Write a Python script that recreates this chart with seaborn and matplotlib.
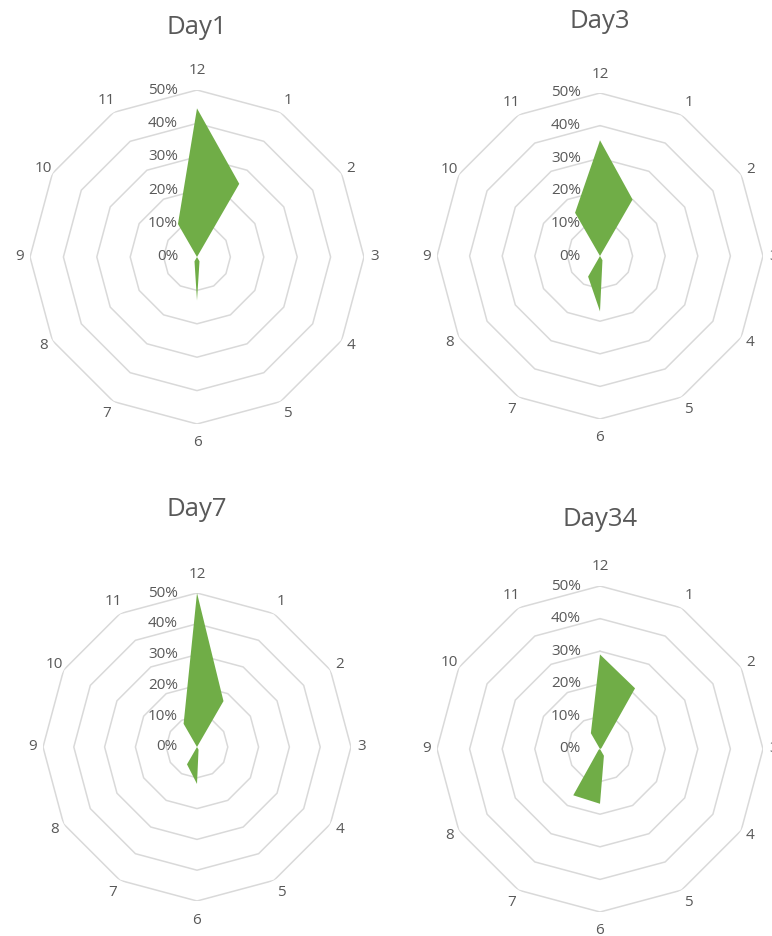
import matplotlib

matplotlib.use("Agg")
import matplotlib.pyplot as plt
import matplotlib.transforms as mtransforms
import numpy as np
import seaborn as sns

# hour-of-day categories, clockwise from the top
categories = ["12", "1", "2", "3", "4", "5", "6", "7", "8", "9", "10", "11"]

# share of events per hour (fractions)
day1 = [0.445, 0.253, 0.0, 0.0, 0.0, 0.015, 0.13, 0.015, 0.0, 0.0, 0.0, 0.114]
day3 = [0.355, 0.20, 0.0, 0.0, 0.0, 0.015, 0.17, 0.073, 0.0, 0.0, 0.0, 0.153]
day7 = [0.50, 0.172, 0.0, 0.0, 0.0, 0.01, 0.12, 0.065, 0.0, 0.0, 0.0, 0.087]
day34 = [0.29, 0.215, 0.005, 0.0, 0.0, 0.024, 0.168, 0.164, 0.005, 0.0, 0.0, 0.056]

titles = ["Day1", "Day3", "Day7", "Day34"]
r_ticks = [0.0, 0.1, 0.2, 0.3, 0.4, 0.5]
r_labels = ["0%", "10%", "20%", "30%", "40%", "50%"]

GREEN = "#70AD47"
GRID = "#D9D9D9"
TEXT = "#595959"

sns.set_theme(style="white")
plt.rcParams["font.family"] = ["Open Sans", "DejaVu Sans"]

W, H = 772, 936
fig = plt.figure(figsize=(W / 100, H / 100), dpi=100)

# (center x, center y, outer radius, title x, title y) in pixels
layout = [
    (197, 257, 167, 197, 27),
    (600, 256, 163, 600, 21),
    (197, 747, 154, 197, 510),
    (600, 749, 163, 600, 519),
]

angles = np.linspace(0, 2 * np.pi, len(categories), endpoint=False)
closed = np.append(angles, angles[0])

for values, title, (cx, cy, R, tx, ty) in zip([day1, day3, day7, day34], titles, layout):
    rect = [(cx - R) / W, (H - cy - R) / H, 2 * R / W, 2 * R / H]
    ax = fig.add_axes(rect, projection="polar")
    ax.set_theta_zero_location("N")
    ax.set_theta_direction(-1)
    ax.set_ylim(0, 0.5)
    ax.grid(False)
    ax.spines["polar"].set_visible(False)
    ax.patch.set_alpha(0)
    ax.set_xticks([])
    ax.set_yticks([])

    for lvl in r_ticks[1:]:
        ax.plot(closed, [lvl] * len(closed), color=GRID, lw=1.1, zorder=1)

    ax.fill(angles, values, color=GREEN, lw=0, zorder=2)

    # category labels just outside the outer ring, Excel-like spacing
    for ang, lab in zip(angles, categories):
        s, c = np.sin(ang), np.cos(ang)
        g = 10.5 + 8.5 * c ** 6
        tr = mtransforms.offset_copy(ax.transData, fig=fig, x=g * s, y=g * c, units="dots")
        ax.text(ang, 0.5, lab, transform=tr, ha="center", va="center",
                color=TEXT, fontsize=11, clip_on=False)

    shift = mtransforms.offset_copy(ax.transData, fig=fig, x=-19, y=0, units="dots")
    for v, lab in zip(r_ticks, r_labels):
        ax.text(0, v, lab, transform=shift, ha="right", va="center",
                color=TEXT, fontsize=11, zorder=3)

    fig.text(tx / W, 1 - ty / H, title, ha="center", va="center",
             color=TEXT, fontsize=18.5)

fig.savefig("out.png", dpi=100)
